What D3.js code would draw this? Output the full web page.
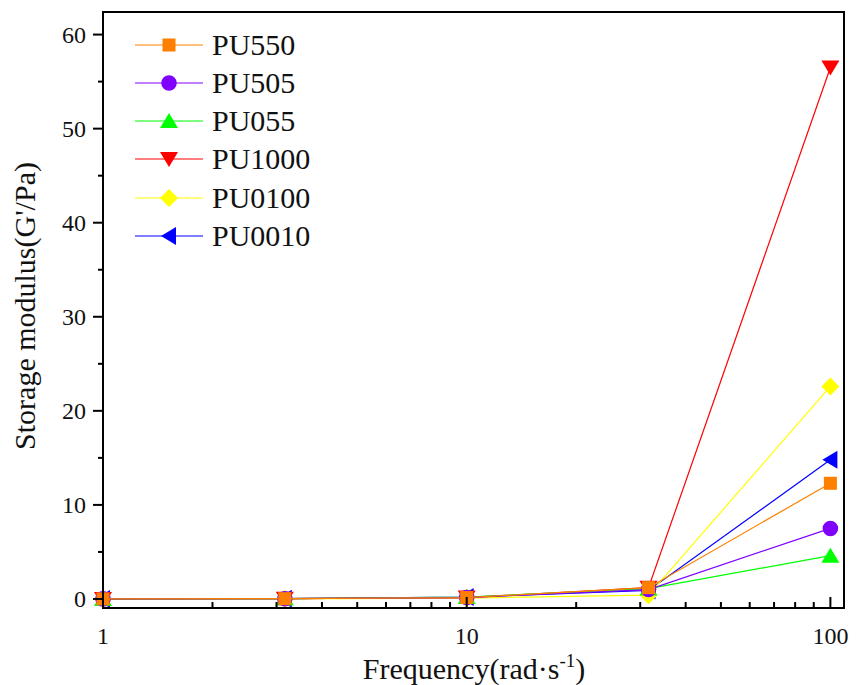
<!DOCTYPE html>
<meta charset="utf-8">
<style>
body { margin: 0; background: #fff; }
text { font-family: "Liberation Serif", "Times New Roman", serif; fill: #111; }
</style>
<body>
<script src="https://cdnjs.cloudflare.com/ajax/libs/d3/7.8.5/d3.min.js"></script>
<script>
// frequency points (rad/s)
var freq = [1, 3.162, 10, 31.62, 100];

var names = ["PU550", "PU505", "PU055", "PU1000", "PU0100", "PU0010"];
var colors = ["#ff8000", "#8000ff", "#00ff00", "#ff0000", "#ffff00", "#0000ff"];
var shapes = ["square", "circle", "triangle", "down", "diamond", "left"];

// storage modulus values, one array per sample
var pu550 = [0.01, 0.03, 0.15, 1.2, 12.3];
var pu505 = [0.01, 0.03, 0.15, 1.0, 7.5];
var pu055 = [0.01, 0.04, 0.2, 1.1, 4.6];
var pu1000 = [0.01, 0.03, 0.15, 1.2, 56.5];
var pu0100 = [0.0, 0.02, 0.1, 0.4, 22.6];
var pu0010 = [0.01, 0.03, 0.2, 0.9, 14.8];
var series = [pu550, pu505, pu055, pu1000, pu0100, pu0010];

var yTicks = [0, 10, 20, 30, 40, 50, 60];
var xTicks = [1, 10, 100];

var width = 861, height = 685;
var mLeft = 103, mRight = 844, mTop = 12, mBottom = 608;

var svg = d3.select("body").append("svg")
    .attr("width", width)
    .attr("height", height);

var x = d3.scaleLog().domain([1, 109]).range([mLeft, mRight]);
var y = d3.scaleLinear().domain([-0.96, 62.4]).range([mBottom, mTop]);

function symbolFor(s) {
    if (s == "square") return d3.symbol().type(d3.symbolSquare).size(170)();
    if (s == "circle") return d3.symbol().type(d3.symbolCircle).size(190)();
    if (s == "diamond") return "M0,-9L9,0L0,9L-9,0Z";
    return "M0,-8L9,7L-9,7Z"; // triangle up, rotated for the others
}
function rotFor(s) {
    if (s == "down") return 180;
    if (s == "left") return -90;
    return 0;
}

var line = d3.line().x((d, i) => x(freq[i])).y(d => y(d));

// draw in reverse so PU550 ends up on top
for (var k = series.length - 1; k >= 0; k--) {
    var g = svg.append("g");
    g.append("path")
        .attr("d", line(series[k]))
        .attr("fill", "none")
        .attr("stroke", colors[k])
        .attr("stroke-width", 1.2);
    g.selectAll("path.m").data(series[k]).enter().append("path")
        .attr("class", "m")
        .attr("d", symbolFor(shapes[k]))
        .attr("transform", (d, i) => "translate(" + x(freq[i]) + "," + y(d) + ") rotate(" + rotFor(shapes[k]) + ")")
        .attr("fill", colors[k]);
}

// frame
svg.append("rect")
    .attr("x", mLeft).attr("y", mTop)
    .attr("width", mRight - mLeft).attr("height", mBottom - mTop)
    .attr("fill", "none").attr("stroke", "#000").attr("stroke-width", 2);

// y axis ticks (outward)
var yMinor = d3.range(5, 60, 10);
svg.selectAll(".yminor").data(yMinor).enter().append("line")
    .attr("x1", mLeft - 5).attr("x2", mLeft)
    .attr("y1", d => y(d)).attr("y2", d => y(d))
    .attr("stroke", "#000").attr("stroke-width", 2);
svg.selectAll(".ymajor").data(yTicks).enter().append("line")
    .attr("x1", mLeft - 10).attr("x2", mLeft)
    .attr("y1", d => y(d)).attr("y2", d => y(d))
    .attr("stroke", "#000").attr("stroke-width", 2);
svg.selectAll(".ylab").data(yTicks).enter().append("text")
    .attr("x", mLeft - 17).attr("y", d => y(d) + 8)
    .attr("text-anchor", "end")
    .style("font-size", "24px")
    .text(d => d);

// x axis ticks (inward)
var xMinor = [];
[1, 10].forEach(function(b) { for (var k = 2; k < 10; k++) xMinor.push(b * k); });
svg.selectAll(".xminor").data(xMinor).enter().append("line")
    .attr("x1", d => x(d)).attr("x2", d => x(d))
    .attr("y1", mBottom).attr("y2", mBottom - 6)
    .attr("stroke", "#000").attr("stroke-width", 2);
svg.selectAll(".xmajor").data(xTicks).enter().append("line")
    .attr("x1", d => x(d)).attr("x2", d => x(d))
    .attr("y1", mBottom).attr("y2", mBottom - 11)
    .attr("stroke", "#000").attr("stroke-width", 2);
svg.selectAll(".xlab").data(xTicks).enter().append("text")
    .attr("x", d => x(d)).attr("y", 644)
    .attr("text-anchor", "middle")
    .style("font-size", "24px")
    .text(d => d);

// axis titles
var xt = svg.append("text")
    .attr("x", 474).attr("y", 679)
    .attr("text-anchor", "middle")
    .style("font-size", "30px");
xt.append("tspan").text("Frequency(rad\u00b7s");
xt.append("tspan").attr("dy", -12).style("font-size", "19px").text("-1");
xt.append("tspan").attr("dy", 12).text(")");

svg.append("text")
    .attr("transform", "translate(35,306) rotate(-90)")
    .attr("text-anchor", "middle")
    .style("font-size", "30px")
    .text("Storage modulus(G'/Pa)");

// legend
var legY = [45, 83, 121, 159, 198, 236];
names.forEach(function(n, k) {
    var lg = svg.append("g").attr("transform", "translate(0," + legY[k] + ")");
    lg.append("line")
        .attr("x1", 135).attr("x2", 203)
        .attr("stroke", colors[k]).attr("stroke-width", 1.2);
    lg.append("path")
        .attr("d", symbolFor(shapes[k]))
        .attr("transform", "translate(169,0) rotate(" + rotFor(shapes[k]) + ")")
        .attr("fill", colors[k]);
    lg.append("text")
        .attr("x", 212).attr("y", 10)
        .style("font-size", "30px")
        .text(n);
});
</script>
</body>
